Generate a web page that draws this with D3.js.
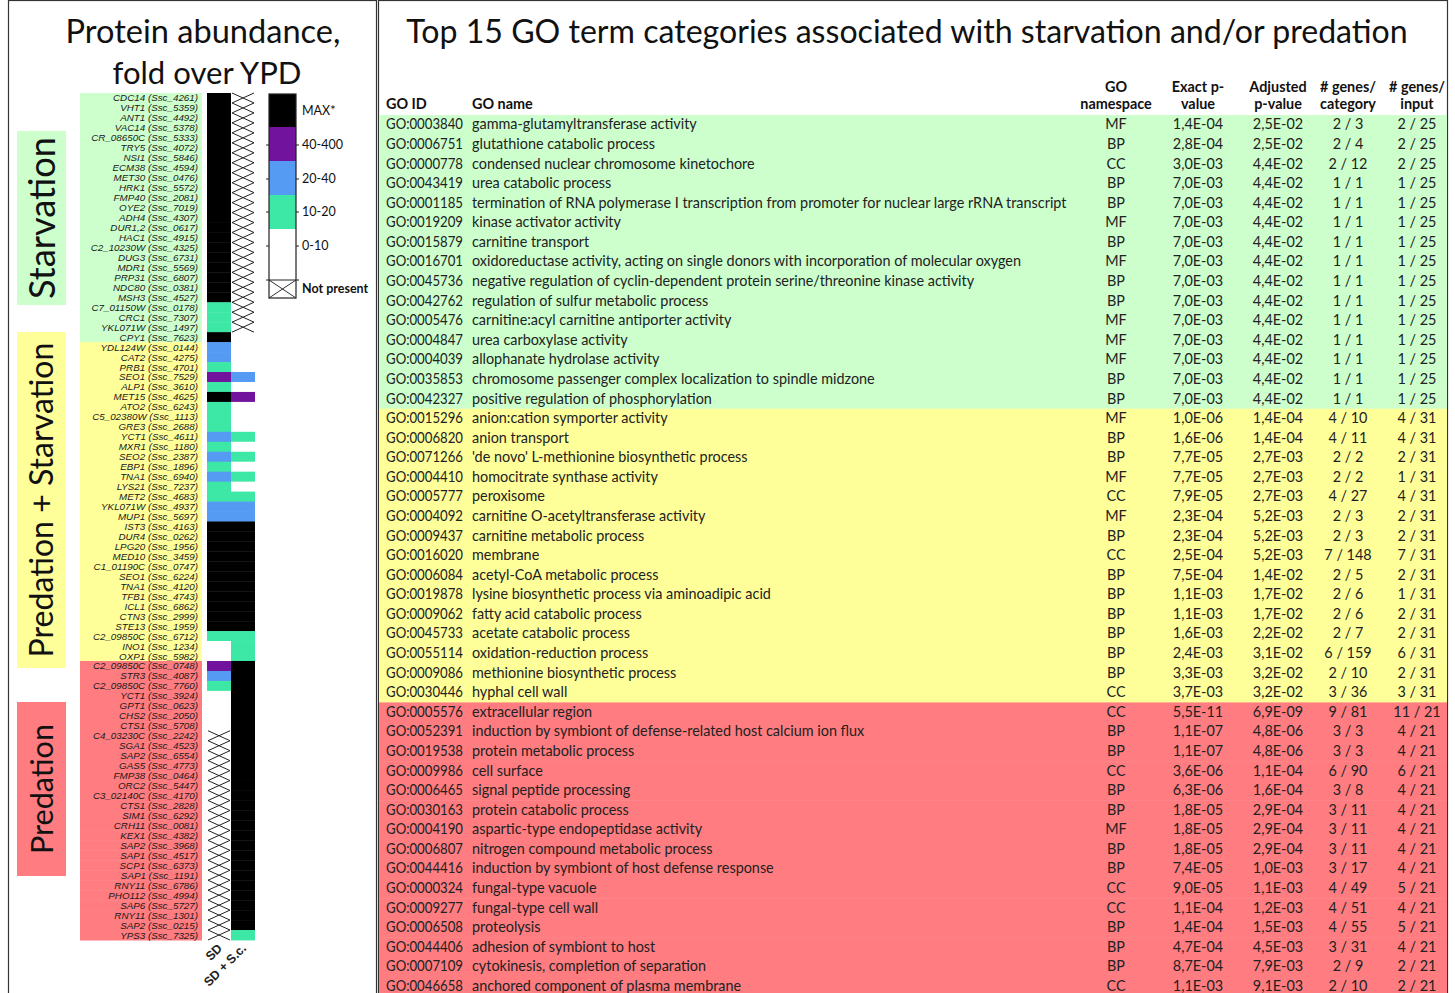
<!DOCTYPE html>
<html>
<head>
<meta charset="utf-8">
<script src="https://cdn.jsdelivr.net/npm/d3@7"></script>
<style>
  body { margin: 0; background: #fff; }
  svg { display: block; }
</style>
</head>
<body>
<svg id="chart" width="1455" height="993"></svg>
<script>
// ---- heatmap data (fold over YPD, binned) ----
const levels = ["MAX*", "40-400", "20-40", "10-20", "0-10", "Not present"];
const levelColors = ["#000000", "#71139d", "#559af3", "#3de8a6", "#ffffff", "#ffffff"];

const groups = ["Starvation", "Predation + Starvation", "Predation"];
const groupColors = ["#ccffcc", "#ffff99", "#ff7c80"];

const starvGenes = ["CDC14 (Ssc_4261)", "VHT1 (Ssc_5359)", "ANT1 (Ssc_4492)", "VAC14 (Ssc_5378)", "CR_08650C (Ssc_5333)",
  "TRY5 (Ssc_4072)", "NSI1 (Ssc_5846)", "ECM38 (Ssc_4594)", "MET30 (Ssc_0476)", "HRK1 (Ssc_5572)", "FMP40 (Ssc_2081)",
  "OYE2 (Ssc_7019)", "ADH4 (Ssc_4307)", "DUR1,2 (Ssc_0617)", "HAC1 (Ssc_4915)", "C2_10230W (Ssc_4325)", "DUG3 (Ssc_6731)",
  "MDR1 (Ssc_5569)", "PRP31 (Ssc_6807)", "NDC80 (Ssc_0381)", "MSH3 (Ssc_4527)", "C7_01150W (Ssc_0178)", "CRC1 (Ssc_7307)",
  "YKL071W (Ssc_1497)", "CPY1 (Ssc_7623)"];
const starvSD = ["MAX*", "MAX*", "MAX*", "MAX*", "MAX*", "MAX*", "MAX*", "MAX*", "MAX*", "MAX*", "MAX*", "MAX*", "MAX*",
  "MAX*", "MAX*", "MAX*", "MAX*", "MAX*", "MAX*", "MAX*", "MAX*", "10-20", "10-20", "10-20", "MAX*"];
const starvSC = ["Not present", "Not present", "Not present", "Not present", "Not present", "Not present", "Not present",
  "Not present", "Not present", "Not present", "Not present", "Not present", "Not present", "Not present", "Not present",
  "Not present", "Not present", "Not present", "Not present", "Not present", "Not present", "Not present", "Not present",
  "Not present", "0-10"];

const bothGenes = ["YDL124W (Ssc_0144)", "CAT2 (Ssc_4275)", "PRB1 (Ssc_4701)", "SEO1 (Ssc_7529)", "ALP1 (Ssc_3610)",
  "MET15 (Ssc_4625)", "ATO2 (Ssc_6243)", "C5_02380W (Ssc_1113)", "GRE3 (Ssc_2688)", "YCT1 (Ssc_4611)", "MXR1 (Ssc_1180)",
  "SEO2 (Ssc_2387)", "EBP1 (Ssc_1896)", "TNA1 (Ssc_6940)", "LYS21 (Ssc_7237)", "MET2 (Ssc_4683)", "YKL071W (Ssc_4937)",
  "MUP1 (Ssc_5697)", "IST3 (Ssc_4163)", "DUR4 (Ssc_0262)", "LPG20 (Ssc_1956)", "MED10 (Ssc_3459)", "C1_01190C (Ssc_0747)",
  "SEO1 (Ssc_6224)", "TNA1 (Ssc_4120)", "TFB1 (Ssc_4743)", "ICL1 (Ssc_6862)", "CTN3 (Ssc_2999)", "STE13 (Ssc_1959)",
  "C2_09850C (Ssc_6712)", "INO1 (Ssc_1234)", "OXP1 (Ssc_5982)"];
const bothSD = ["20-40", "20-40", "10-20", "40-400", "10-20", "MAX*", "10-20", "10-20", "10-20", "20-40", "10-20", "20-40",
  "10-20", "20-40", "10-20", "10-20", "20-40", "20-40", "MAX*", "MAX*", "MAX*", "MAX*", "MAX*", "MAX*", "MAX*", "MAX*",
  "MAX*", "MAX*", "MAX*", "10-20", "0-10", "0-10"];
const bothSC = ["0-10", "0-10", "0-10", "20-40", "0-10", "40-400", "0-10", "0-10", "0-10", "10-20", "0-10", "10-20",
  "0-10", "10-20", "0-10", "10-20", "20-40", "20-40", "MAX*", "MAX*", "MAX*", "MAX*", "MAX*", "MAX*", "MAX*", "MAX*",
  "MAX*", "MAX*", "MAX*", "10-20", "10-20", "10-20"];

const predGenes = ["C2_09850C (Ssc_0748)", "STR3 (Ssc_4087)", "C2_09850C (Ssc_7760)", "YCT1 (Ssc_3924)", "GPT1 (Ssc_0623)",
  "CHS2 (Ssc_2050)", "CTS1 (Ssc_5708)", "C4_03230C (Ssc_2242)", "SGA1 (Ssc_4523)", "SAP2 (Ssc_6554)", "GAS5 (Ssc_4773)",
  "FMP38 (Ssc_0464)", "ORC2 (Ssc_5447)", "C3_02140C (Ssc_4170)", "CTS1 (Ssc_2828)", "SIM1 (Ssc_6292)", "CRH11 (Ssc_0081)",
  "KEX1 (Ssc_4382)", "SAP2 (Ssc_3968)", "SAP1 (Ssc_4517)", "SCP1 (Ssc_6373)", "SAP1 (Ssc_1191)", "RNY11 (Ssc_6786)",
  "PHO112 (Ssc_4994)", "SAP6 (Ssc_5727)", "RNY11 (Ssc_1301)", "SAP2 (Ssc_0215)", "YPS3 (Ssc_7325)"];
const predSD = ["40-400", "20-40", "10-20", "0-10", "0-10", "0-10", "0-10", "Not present", "Not present", "Not present",
  "Not present", "Not present", "Not present", "Not present", "Not present", "Not present", "Not present", "Not present",
  "Not present", "Not present", "Not present", "Not present", "Not present", "Not present", "Not present", "Not present",
  "Not present", "Not present"];
const predSC = ["MAX*", "MAX*", "MAX*", "MAX*", "MAX*", "MAX*", "MAX*", "MAX*", "MAX*", "MAX*", "MAX*", "MAX*", "MAX*",
  "MAX*", "MAX*", "MAX*", "MAX*", "MAX*", "MAX*", "MAX*", "MAX*", "MAX*", "MAX*", "MAX*", "MAX*", "MAX*", "MAX*", "10-20"];

const conditions = ["SD", "SD + S.c."];

// ---- GO table data ----
const tableHeaders = [["GO ID"], ["GO name"], ["GO", "namespace"], ["Exact p-", "value"], ["Adjusted", "p-value"],
  ["# genes/", "category"], ["# genes/", "input"]];

const goIds = ["GO:0003840", "GO:0006751", "GO:0000778", "GO:0043419", "GO:0001185", "GO:0019209", "GO:0015879",
  "GO:0016701", "GO:0045736", "GO:0042762", "GO:0005476", "GO:0004847", "GO:0004039", "GO:0035853", "GO:0042327",
  "GO:0015296", "GO:0006820", "GO:0071266", "GO:0004410", "GO:0005777", "GO:0004092", "GO:0009437", "GO:0016020",
  "GO:0006084", "GO:0019878", "GO:0009062", "GO:0045733", "GO:0055114", "GO:0009086", "GO:0030446",
  "GO:0005576", "GO:0052391", "GO:0019538", "GO:0009986", "GO:0006465", "GO:0030163", "GO:0004190", "GO:0006807",
  "GO:0044416", "GO:0000324", "GO:0009277", "GO:0006508", "GO:0044406", "GO:0007109", "GO:0046658"];
const goNames = ["gamma-glutamyltransferase activity", "glutathione catabolic process",
  "condensed nuclear chromosome kinetochore", "urea catabolic process",
  "termination of RNA polymerase I transcription from promoter for nuclear large rRNA transcript",
  "kinase activator activity", "carnitine transport",
  "oxidoreductase activity, acting on single donors with incorporation of molecular oxygen",
  "negative regulation of cyclin-dependent protein serine/threonine kinase activity",
  "regulation of sulfur metabolic process", "carnitine:acyl carnitine antiporter activity", "urea carboxylase activity",
  "allophanate hydrolase activity", "chromosome passenger complex localization to spindle midzone",
  "positive regulation of phosphorylation",
  "anion:cation symporter activity", "anion transport", "'de novo' L-methionine biosynthetic process",
  "homocitrate synthase activity", "peroxisome", "carnitine O-acetyltransferase activity", "carnitine metabolic process",
  "membrane", "acetyl-CoA metabolic process", "lysine biosynthetic process via aminoadipic acid",
  "fatty acid catabolic process", "acetate catabolic process", "oxidation-reduction process",
  "methionine biosynthetic process", "hyphal cell wall",
  "extracellular region", "induction by symbiont of defense-related host calcium ion flux", "protein metabolic process",
  "cell surface", "signal peptide processing", "protein catabolic process", "aspartic-type endopeptidase activity",
  "nitrogen compound metabolic process", "induction by symbiont of host defense response", "fungal-type vacuole",
  "fungal-type cell wall", "proteolysis", "adhesion of symbiont to host", "cytokinesis, completion of separation",
  "anchored component of plasma membrane"];
const namespaces = ["MF", "BP", "CC", "BP", "BP", "MF", "BP", "MF", "BP", "BP", "MF", "MF", "MF", "BP", "BP",
  "MF", "BP", "BP", "MF", "CC", "MF", "BP", "CC", "BP", "BP", "BP", "BP", "BP", "BP", "CC",
  "CC", "BP", "BP", "CC", "BP", "BP", "MF", "BP", "BP", "CC", "CC", "BP", "BP", "BP", "CC"];
const exactP = ["1,4E-04", "2,8E-04", "3,0E-03", "7,0E-03", "7,0E-03", "7,0E-03", "7,0E-03", "7,0E-03", "7,0E-03",
  "7,0E-03", "7,0E-03", "7,0E-03", "7,0E-03", "7,0E-03", "7,0E-03",
  "1,0E-06", "1,6E-06", "7,7E-05", "7,7E-05", "7,9E-05", "2,3E-04", "2,3E-04", "2,5E-04", "7,5E-04", "1,1E-03",
  "1,1E-03", "1,6E-03", "2,4E-03", "3,3E-03", "3,7E-03",
  "5,5E-11", "1,1E-07", "1,1E-07", "3,6E-06", "6,3E-06", "1,8E-05", "1,8E-05", "1,8E-05", "7,4E-05", "9,0E-05",
  "1,1E-04", "1,4E-04", "4,7E-04", "8,7E-04", "1,1E-03"];
const adjustedP = ["2,5E-02", "2,5E-02", "4,4E-02", "4,4E-02", "4,4E-02", "4,4E-02", "4,4E-02", "4,4E-02", "4,4E-02",
  "4,4E-02", "4,4E-02", "4,4E-02", "4,4E-02", "4,4E-02", "4,4E-02",
  "1,4E-04", "1,4E-04", "2,7E-03", "2,7E-03", "2,7E-03", "5,2E-03", "5,2E-03", "5,2E-03", "1,4E-02", "1,7E-02",
  "1,7E-02", "2,2E-02", "3,1E-02", "3,2E-02", "3,2E-02",
  "6,9E-09", "4,8E-06", "4,8E-06", "1,1E-04", "1,6E-04", "2,9E-04", "2,9E-04", "2,9E-04", "1,0E-03", "1,1E-03",
  "1,2E-03", "1,5E-03", "4,5E-03", "7,9E-03", "9,1E-03"];
const genesPerCategory = ["2 / 3", "2 / 4", "2 / 12", "1 / 1", "1 / 1", "1 / 1", "1 / 1", "1 / 1", "1 / 1", "1 / 1",
  "1 / 1", "1 / 1", "1 / 1", "1 / 1", "1 / 1",
  "4 / 10", "4 / 11", "2 / 2", "2 / 2", "4 / 27", "2 / 3", "2 / 3", "7 / 148", "2 / 5", "2 / 6", "2 / 6", "2 / 7",
  "6 / 159", "2 / 10", "3 / 36",
  "9 / 81", "3 / 3", "3 / 3", "6 / 90", "3 / 8", "3 / 11", "3 / 11", "3 / 11", "3 / 17", "4 / 49", "4 / 51", "4 / 55",
  "3 / 31", "2 / 9", "2 / 10"];
const genesPerInput = ["2 / 25", "2 / 25", "2 / 25", "1 / 25", "1 / 25", "1 / 25", "1 / 25", "1 / 25", "1 / 25",
  "1 / 25", "1 / 25", "1 / 25", "1 / 25", "1 / 25", "1 / 25",
  "4 / 31", "4 / 31", "2 / 31", "1 / 31", "4 / 31", "2 / 31", "2 / 31", "7 / 31", "2 / 31", "1 / 31", "2 / 31",
  "2 / 31", "6 / 31", "2 / 31", "3 / 31",
  "11 / 21", "4 / 21", "4 / 21", "6 / 21", "4 / 21", "4 / 21", "4 / 21", "4 / 21", "4 / 21", "5 / 21", "4 / 21",
  "5 / 21", "4 / 21", "2 / 21", "2 / 21"];
const termGroup = [0, 0, 0, 0, 0, 0, 0, 0, 0, 0, 0, 0, 0, 0, 0, 1, 1, 1, 1, 1, 1, 1, 1, 1, 1, 1, 1, 1, 1, 1,
  2, 2, 2, 2, 2, 2, 2, 2, 2, 2, 2, 2, 2, 2, 2];

// ---- build ----
const svg = d3.select("#chart");
const sansFont = "Lato, 'Open Sans', sans-serif";
const geneFont = "'Liberation Sans', Arial, sans-serif";

// scale the font size so the text gets the width it has in the figure
function fitText(sel, width) {
  const cur = sel.node().getComputedTextLength();
  const fs = parseFloat(sel.attr("font-size"));
  sel.attr("font-size", fs * width / cur);
}

// panel borders
svg.append("rect").attr("x", 8.5).attr("y", 0.5).attr("width", 368).attr("height", 1000)
  .attr("fill", "none").attr("stroke", "#333").attr("stroke-width", 1.2);
svg.append("rect").attr("x", 378.5).attr("y", 0.5).attr("width", 1069).attr("height", 1000)
  .attr("fill", "none").attr("stroke", "#333").attr("stroke-width", 1.2);

// left title
const lt1 = svg.append("text").attr("x", 203).attr("y", 43).attr("text-anchor", "middle")
  .attr("font-family", sansFont).attr("font-size", 30).attr("fill", "#111").text("Protein abundance,");
fitText(lt1, 275);
const lt2 = svg.append("text").attr("x", 207).attr("y", 84).attr("text-anchor", "middle")
  .attr("font-family", sansFont).attr("font-size", 30).attr("fill", "#111").text("fold over YPD");
fitText(lt2, 189);

// right title
const rt = svg.append("text").attr("x", 907).attr("y", 43).attr("text-anchor", "middle")
  .attr("font-family", sansFont).attr("font-size", 30).attr("fill", "#111")
  .text("Top 15 GO term categories associated with starvation and/or predation");
fitText(rt, 1002);

// ---- heatmap ----
const rows = [];
[[starvGenes, starvSD, starvSC], [bothGenes, bothSD, bothSC], [predGenes, predSD, predSC]].forEach((g, gi) => {
  g[0].forEach((name, i) => rows.push({ name: name, group: gi, vals: [g[1][i], g[2][i]] }));
});

const y = d3.scaleBand().domain(d3.range(rows.length)).range([93, 940]).padding(0);
const x = d3.scaleBand().domain(conditions).range([207, 255]).padding(0);
const color = d3.scaleOrdinal().domain(levels).range(levelColors);
const groupColor = d3.scaleOrdinal().domain(d3.range(groups.length)).range(groupColors);

// gene label backgrounds
svg.append("g").selectAll("rect").data(rows).join("rect")
  .attr("x", 80).attr("width", 122)
  .attr("y", (d, i) => y(i)).attr("height", y.bandwidth() + 0.5)
  .attr("fill", d => groupColor(d.group));

svg.append("g").selectAll("text").data(rows).join("text")
  .attr("x", 198).attr("y", (d, i) => y(i) + y.bandwidth() / 2 + 3.5)
  .attr("text-anchor", "end").attr("font-family", geneFont).attr("font-style", "italic")
  .attr("font-size", 9.8).attr("fill", "#1a1a1a")
  .text(d => d.name);

// cells
const cells = [];
rows.forEach((r, i) => conditions.forEach((c, ci) => cells.push({ row: i, cond: c, val: r.vals[ci] })));

const cellG = svg.append("g");
cellG.selectAll("rect").data(cells).join("rect")
  .attr("x", d => x(d.cond)).attr("width", x.bandwidth())
  .attr("y", d => y(d.row)).attr("height", y.bandwidth() + 0.4)
  .attr("fill", d => color(d.val));

const np = cells.filter(d => d.val === "Not present");
cellG.selectAll("path").data(np).join("path")
  .attr("d", d => {
    const x0 = x(d.cond) + 1, x1 = x(d.cond) + x.bandwidth() - 1, y0 = y(d.row), y1 = y(d.row) + y.bandwidth();
    return `M${x0},${y0}L${x1},${y1}M${x0},${y1}L${x1},${y0}`;
  })
  .attr("fill", "none").attr("stroke", "#222").attr("stroke-width", 1);

// condition labels
svg.append("g").selectAll("text").data(conditions).join("text")
  .attr("transform", d => `translate(${x(d) + x.bandwidth() / 2 + 4},${949}) rotate(-45)`)
  .attr("text-anchor", "end").attr("font-family", geneFont).attr("font-weight", "bold")
  .attr("font-size", 12.5).attr("fill", "#222")
  .text(d => d);

// group side labels
const groupSpans = [[131, 305], [332, 668], [702, 876]];
const groupTextLen = [162, 315, 130];
groupSpans.forEach((s, i) => {
  svg.append("rect").attr("x", 17).attr("y", s[0]).attr("width", 49).attr("height", s[1] - s[0])
    .attr("fill", groupColor(i));
  const t = svg.append("text")
    .attr("transform", `translate(${42},${(s[0] + s[1]) / 2}) rotate(-90)`)
    .attr("text-anchor", "middle").attr("dy", "0.35em")
    .attr("font-family", sansFont).attr("font-size", 33).attr("fill", "#111")
    .text(groups[i]);
  fitText(t, groupTextLen[i]);
});

// legend
const legendBlocks = [[94, 127], [127, 161], [161, 195], [195, 229], [229, 280], [280, 298]];
const labelY = [111, 145, 179, 212, 246, 289];
const lg = svg.append("g");
levels.forEach((lv, i) => {
  const b = legendBlocks[i];
  lg.append("rect").attr("x", 269).attr("y", b[0]).attr("width", 27).attr("height", b[1] - b[0])
    .attr("fill", color(lv));
  if (lv === "Not present") {
    lg.append("path").attr("d", `M269,${b[0]}L296,${b[1]}M269,${b[1]}L296,${b[0]}`)
      .attr("stroke", "#333").attr("fill", "none");
    lg.append("line").attr("x1", 266).attr("x2", 299).attr("y1", b[0]).attr("y2", b[0])
      .attr("stroke", "#222").attr("stroke-width", 1);
  } else if (i > 0) {
    lg.append("line").attr("x1", 266).attr("x2", 269).attr("y1", labelY[i]).attr("y2", labelY[i]).attr("stroke", "#222");
    lg.append("line").attr("x1", 296).attr("x2", 299).attr("y1", labelY[i]).attr("y2", labelY[i]).attr("stroke", "#222");
  }
  lg.append("text").attr("x", 302).attr("y", labelY[i] + 4)
    .attr("font-family", sansFont).attr("font-size", 12.5)
    .attr("font-weight", lv === "Not present" ? "bold" : "normal")
    .attr("fill", "#111").text(lv);
});
lg.append("rect").attr("x", 269).attr("y", 94).attr("width", 27).attr("height", 204)
  .attr("fill", "none").attr("stroke", "#222").attr("stroke-width", 1.2);

// ---- table ----
const rowH = 19.58;
const ty = d3.scaleLinear().domain([0, 1]).range([115, 115 + rowH]);
const colX = [386, 472, 1116, 1198, 1278, 1348, 1417];
const colAnchor = ["start", "start", "middle", "middle", "middle", "middle", "middle"];
const tableFont = 14.4;

svg.append("g").selectAll("rect").data(goIds).join("rect")
  .attr("x", 379).attr("width", 1068)
  .attr("y", (d, i) => ty(i)).attr("height", rowH + 0.5)
  .attr("fill", (d, i) => groupColor(termGroup[i]));

const hdr = svg.append("g").attr("font-family", sansFont).attr("font-weight", "bold")
  .attr("font-size", tableFont).attr("fill", "#111");
tableHeaders.forEach((h, ci) => {
  h.forEach((line, li) => {
    hdr.append("text")
      .attr("x", colX[ci]).attr("y", 109 - (h.length - 1 - li) * 17)
      .attr("text-anchor", colAnchor[ci]).text(line);
  });
});

const columns = [goIds, goNames, namespaces, exactP, adjustedP, genesPerCategory, genesPerInput];
const body = svg.append("g").attr("font-family", sansFont).attr("font-size", tableFont).attr("fill", "#222");
columns.forEach((col, ci) => {
  const t = body.append("g").selectAll("text").data(col).join("text")
    .attr("x", colX[ci]).attr("y", (d, i) => ty(i) + 14.4)
    .attr("text-anchor", colAnchor[ci])
    .text(d => d);
  // GO ids are a bit narrower in the original font
  if (ci === 0) t.attr("textLength", 77).attr("lengthAdjust", "spacingAndGlyphs");
});
</script>
</body>
</html>
